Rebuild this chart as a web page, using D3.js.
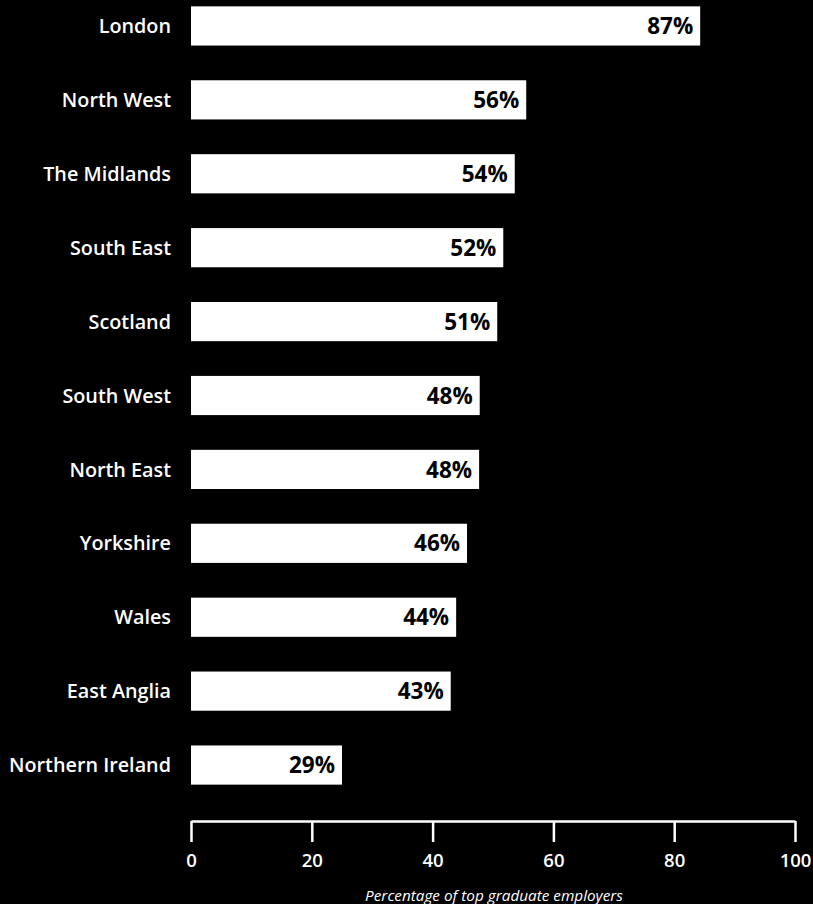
<!DOCTYPE html>
<html><head><meta charset="utf-8">
<script src="https://cdn.jsdelivr.net/npm/d3@7"></script>
<style>
html,body{margin:0;padding:0;background:#000;}
svg{display:block;}
text{font-family:"Open Sans","Noto Sans",sans-serif;}
</style></head>
<body>
<svg id="chart" width="813" height="904"></svg>
<script>
const categories = ["London","North West","The Midlands","South East","Scotland","South West","North East","Yorkshire","Wales","East Anglia","Northern Ireland"];
const barValues = [84.3,55.5,53.6,51.7,50.7,47.8,47.7,45.7,43.9,43.0,25.0];
const valueLabels = ["87%","56%","54%","52%","51%","48%","48%","46%","44%","43%","29%"];
const xTicks = [0,20,40,60,80,100];
const axisTitle = "Percentage of top graduate employers";

const svg = d3.select("#chart");
const x = d3.scaleLinear().domain([0,100]).range([191,795]);
const y = d3.scaleBand().domain(categories).range([-11,802]).paddingInner(0.47).paddingOuter(0.235);

svg.append("rect").attr("width",813).attr("height",904).attr("fill","#000");

const g = svg.append("g");
g.selectAll("rect.bar").data(categories).join("rect")
  .attr("class","bar")
  .attr("x",x(0))
  .attr("y",d=>y(d))
  .attr("width",(d,i)=>x(barValues[i])-x(0))
  .attr("height",y.bandwidth())
  .attr("fill","#fff");

g.selectAll("text.cat").data(categories).join("text")
  .attr("class","cat")
  .attr("x",171)
  .attr("y",d=>y(d)+y.bandwidth()/2)
  .attr("dy","0.36em")
  .attr("text-anchor","end")
  .attr("fill","#fff")
  .attr("font-size",19.8)
  .attr("font-weight",600)
  .text(d=>d);

g.selectAll("text.val").data(categories).join("text")
  .attr("class","val")
  .attr("x",(d,i)=>x(barValues[i])-7)
  .attr("y",d=>y(d)+y.bandwidth()/2)
  .attr("dy","0.36em")
  .attr("text-anchor","end")
  .attr("fill","#000")
  .attr("font-size",22.5)
  .attr("font-weight",700)
  .text((d,i)=>valueLabels[i]);

const axis = d3.axisBottom(x).tickValues(xTicks).tickSize(21).tickPadding(12).tickSizeOuter(0);
const ax = svg.append("g").attr("transform","translate(0,821)").call(axis);
ax.select(".domain").attr("stroke","#fff").attr("stroke-width",2.5);
ax.selectAll(".tick line").attr("stroke","#fff").attr("stroke-width",2.5);
ax.selectAll(".tick text").attr("fill","#fff").attr("font-size",18.5).attr("font-weight",600)
  .attr("font-family","'Open Sans','Noto Sans',sans-serif");

svg.append("text")
  .attr("x",494).attr("y",901)
  .attr("text-anchor","middle")
  .attr("fill","#fff")
  .attr("font-size",15.3)
  .attr("font-style","italic")
  .text(axisTitle);
</script>
</body></html>
